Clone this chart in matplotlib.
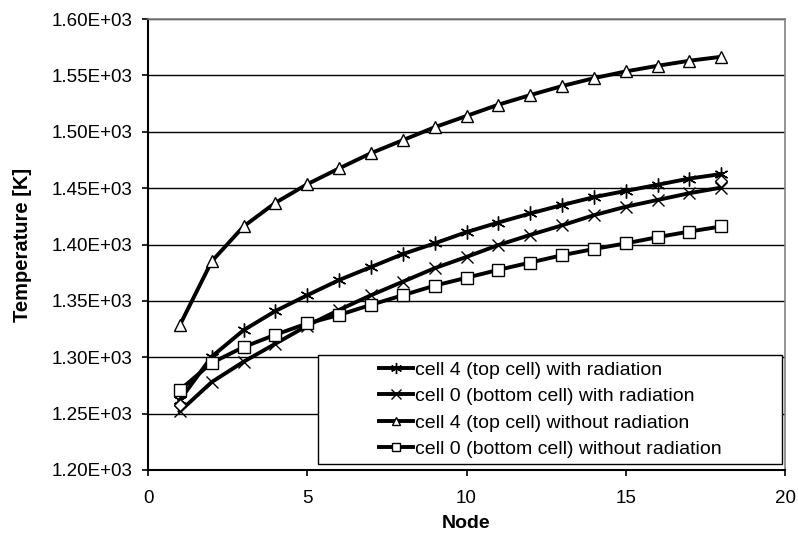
import matplotlib
matplotlib.use('Agg')
import matplotlib.pyplot as plt
from matplotlib.patches import Rectangle
from matplotlib.ticker import FuncFormatter, MultipleLocator

plt.rcParams['font.family'] = ['Liberation Sans', 'DejaVu Sans']

# node numbers along the cell
nodes = list(range(1, 19))

# temperatures [K]
top_with_rad = [1262, 1300.5, 1324, 1341, 1355, 1368.5, 1380, 1391.5, 1401,
                1411, 1419.5, 1427.5, 1435, 1442, 1447.5, 1453, 1458.5, 1462.5]
bottom_with_rad = [1252, 1278, 1296, 1312, 1328, 1342, 1355, 1367, 1379,
                   1389, 1399.5, 1408.5, 1417, 1426, 1433.5, 1439.5, 1445.5, 1450.5]
top_no_rad = [1328.5, 1385, 1416, 1437, 1453.5, 1467.5, 1481, 1492.5, 1504,
              1514, 1524, 1532.5, 1540.5, 1547.5, 1553.5, 1558.5, 1563, 1566.5]
bottom_no_rad = [1271, 1295, 1309, 1320, 1330, 1337.5, 1346.5, 1355, 1363.5,
                 1370.5, 1377.5, 1384, 1390.5, 1396, 1401, 1406.5, 1411.5, 1416]

# the lone diamond markers at both ends
end_nodes = [1, 18]
end_temps = [1258, 1456]

labels = ['cell 4 (top cell) with radiation',
          'cell 0 (bottom cell) with radiation',
          'cell 4 (top cell) without radiation',
          'cell 0 (bottom cell) without radiation']

fig = plt.figure(figsize=(7.98, 5.41), dpi=100)
ax = fig.add_axes([148 / 798, 71 / 541, 637 / 798, 451 / 541])

lw = 2.8
ax.plot(nodes, top_with_rad, color='black', lw=lw, marker=(6, 2, 0), ms=10,
        mew=1, label=labels[0])
ax.plot(nodes, bottom_with_rad, color='black', lw=lw, marker='x', ms=9,
        mew=1, label=labels[1])
ax.plot(nodes, top_no_rad, color='black', lw=lw, marker='^', ms=8, mew=1,
        mfc='white', label=labels[2])
ax.plot(nodes, bottom_no_rad, color='black', lw=lw, marker='s', ms=8, mew=1,
        mfc='white', label=labels[3])
ax.plot(end_nodes, end_temps, ls='none', marker='D', ms=6, mew=1,
        mfc='white', mec='black')

ax.set_xlim(0, 20)
ax.set_ylim(1200, 1600)
ax.xaxis.set_major_locator(MultipleLocator(5))
ax.yaxis.set_major_locator(MultipleLocator(50))
ax.yaxis.set_major_formatter(FuncFormatter(lambda v, p: f'{v:.2E}'))
ax.grid(axis='y', color='black', lw=1)
ax.set_axisbelow(True)

for side in ['top', 'right']:
    ax.spines[side].set_color('#808080')
    ax.spines[side].set_linewidth(1.2)
for side in ['left', 'bottom']:
    ax.spines[side].set_linewidth(1.5)
ax.tick_params(direction='out', length=4.5, width=1.2, labelsize=13.5)
ax.tick_params(axis='y', pad=7)
ax.tick_params(axis='x', pad=10)

ax.set_xlabel('Node', fontsize=14, fontweight='bold', labelpad=6)
ax.set_ylabel('Temperature [K]', fontsize=14.5, fontweight='bold', labelpad=14)

# Excel-style legend box, wider than its contents
ax.add_patch(Rectangle((0.267, 0.013), 0.728, 0.242, transform=ax.transAxes,
                       facecolor='white', edgecolor='black', lw=1, zorder=4))
leg = ax.legend(loc='center', bbox_to_anchor=(0.631, 0.134), fontsize=14,
                frameon=False, handlelength=1.75, labelspacing=0.45,
                handletextpad=0.1, borderpad=0, markerscale=0.8)
leg.set_zorder(5)

fig.savefig('out.png', dpi=100)
